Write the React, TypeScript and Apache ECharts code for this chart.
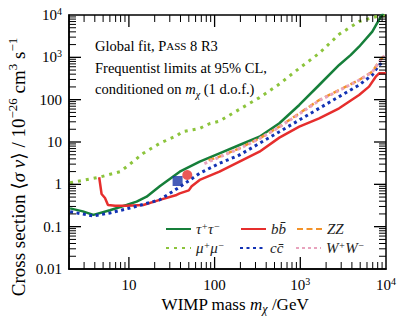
import React, { useEffect, useRef } from "react";
import * as echarts from "echarts";

const FONT = "'Liberation Serif', 'DejaVu Serif', serif";

// Axis ranges
const X_MIN = 2;
const X_MAX = 10000;
const Y_MIN = 0.01;
const Y_MAX = 10000;

// Tick values and labels
const xTickValues = [10, 100, 1000, 10000];
const xTickLabels = ["10", "100", "10{sup|3}", "10{sup|4}"];
const yTickValues = [0.01, 0.1, 1, 10, 100, 1000, 10000];
const yTickLabels = ["0.01", "0.1", "1", "10", "100", "10{sup|3}", "10{sup|4}"];
const xMajorTicks = [10, 100, 1000];
const xMinorTicks = [3, 4, 5, 6, 7, 8, 9, 20, 30, 40, 50, 60, 70, 80, 90, 200, 300, 400, 500, 600, 700, 800, 900, 2000, 3000, 4000, 5000, 6000, 7000, 8000, 9000];
const yMajorTicks = [0.1, 1, 10, 100, 1000];
const yMinorTicks = [0.02, 0.03, 0.04, 0.05, 0.06, 0.07, 0.08, 0.09, 0.2, 0.3, 0.4, 0.5, 0.6, 0.7, 0.8, 0.9, 2, 3, 4, 5, 6, 7, 8, 9, 20, 30, 40, 50, 60, 70, 80, 90, 200, 300, 400, 500, 600, 700, 800, 900, 2000, 3000, 4000, 5000, 6000, 7000, 8000, 9000];

// Series: WIMP mass (GeV) and cross-section limit (1e-26 cm^3 s^-1)
const tauMass = [2.06, 2.9, 3.85, 6.0, 9.4, 12.3, 16.1, 22.9, 39.2, 67, 114, 195, 334, 570, 973, 1660, 2840, 3890, 4850, 6920, 8700, 9300];
const tauSigma = [0.27, 0.23, 0.19, 0.245, 0.325, 0.39, 0.51, 0.9, 1.99, 3.43, 5.4, 8.5, 13.3, 27.7, 75, 222, 661, 1140, 1780, 4040, 9100, 11000];

const bbMass = [4.5, 4.8, 5.26, 5.7, 6.9, 9.4, 14.7, 22.9, 36, 39.2, 50, 54, 67, 114, 195, 334, 570, 973, 1660, 2840, 4850, 6340, 7590, 8300, 10000];
const bbSigma = [1.47, 0.59, 0.475, 0.325, 0.31, 0.31, 0.325, 0.43, 0.56, 0.61, 0.72, 0.9, 1.27, 1.99, 3.43, 5.9, 12.7, 23, 36.3, 62.5, 129, 203, 349, 420, 420];

const zzMass = [85, 114, 195, 334, 570, 973, 1660, 2840, 4850, 6920, 8300, 9600];
const zzSigma = [3.7, 4.5, 7.1, 12.2, 23, 47.6, 98, 169, 292, 458, 789, 1140];

const muMass = [2.06, 4.6, 7.86, 9.4, 14.7, 22.9, 36, 42, 56, 67, 87, 114, 149, 334, 570, 973, 1660, 2840, 4850, 7590, 10000];
const muSigma = [1.09, 1.49, 1.99, 2.6, 5.4, 9.3, 14, 17.5, 19.5, 21, 27, 31, 43, 112, 234, 551, 1250, 3500, 7000, 9120, 9800];

const ccMass = [2.06, 3.8, 6.0, 10.3, 22.9, 39.2, 67, 114, 195, 334, 570, 973, 1660, 2840, 4850, 6920, 8300, 9600];
const ccSigma = [0.226, 0.179, 0.21, 0.276, 0.43, 0.87, 1.82, 3.14, 4.93, 9.3, 17.5, 33, 62.5, 118, 222, 383, 661, 800];

const wwMass = [76, 114, 195, 334, 570, 973, 1660, 2840, 4850, 6920, 8300, 9600];
const wwSigma = [3.1, 4.4, 7.0, 12.0, 22.5, 46, 95, 165, 288, 450, 770, 1100];

// Best-fit points
const bestFitBlue = [[37, 1.2]];
const bestFitRed = [[48, 1.66]];

const names = ["τ+τ−", "bb̄", "ZZ", "μ+μ−", "cc̄", "W+W−"];
const legendRich: Record<string, string> = {
  "τ+τ−": "τ{sup|+}τ{sup|−}",
  "bb̄": "bb\u0304",
  "ZZ": "ZZ",
  "μ+μ−": "μ{sup|+}μ{sup|−}",
  "cc̄": "cc\u0304",
  "W+W−": "W{sup|+}W{sup|−}",
};

function zip(a: number[], b: number[]) {
  return a.map((v, i) => [v, b[i]]);
}

function tickLabel(values: number[], labels: string[]) {
  return (v: number) => {
    for (let i = 0; i < values.length; i++) {
      if (Math.abs(Math.log10(v) - Math.log10(values[i])) < 1e-6) return labels[i];
    }
    return "";
  };
}

export default function App() {
  const ref = useRef<HTMLDivElement>(null);
  useEffect(() => {
    if (!ref.current) return;
    const chart = echarts.init(ref.current, null, { renderer: "svg" });

    const tickData: number[][] = [
      ...xMajorTicks.map((v) => [v, 1, 0, 1]),
      ...xMinorTicks.map((v) => [v, 1, 0, 0]),
      ...yMajorTicks.map((v) => [10, v, 1, 1]),
      ...yMinorTicks.map((v) => [10, v, 1, 0]),
    ];

    const supStyle = { fontSize: 10, fontFamily: FONT, color: "#000", verticalAlign: "top", lineHeight: 10 };
    const legendSup = { fontSize: 10, fontFamily: FONT, fontStyle: "italic", color: "#222", verticalAlign: "top", lineHeight: 9 };

    const lineBase = { type: "line", showSymbol: false, symbol: "none", animation: false, silent: true };

    const legendPos = [
      { left: 165, top: 221 },
      { left: 240, top: 221 },
      { left: 296, top: 221 },
      { left: 165, top: 240 },
      { left: 239, top: 240 },
      { left: 295, top: 240 },
    ];

    const option: any = {
      animation: false,
      grid: { left: 69, right: 21, top: 15, bottom: 56, show: true, borderColor: "#000", borderWidth: 1.5, containLabel: false },
      xAxis: {
        type: "log",
        logBase: 10,
        min: X_MIN,
        max: X_MAX,
        axisLine: { show: true, lineStyle: { color: "#000", width: 1.5 } },
        axisTick: { show: false },
        splitLine: { show: false },
        axisLabel: {
          show: true,
          margin: 7,
          color: "#000",
          fontFamily: FONT,
          fontSize: 15,
          lineHeight: 18,
          formatter: tickLabel(xTickValues, xTickLabels),
          rich: { sup: supStyle },
        },
      },
      yAxis: {
        type: "log",
        logBase: 10,
        min: Y_MIN,
        max: Y_MAX,
        axisLine: { show: true, lineStyle: { color: "#000", width: 1.5 } },
        axisTick: { show: false },
        splitLine: { show: false },
        axisLabel: {
          show: true,
          margin: 7,
          color: "#000",
          fontFamily: FONT,
          fontSize: 15,
          lineHeight: 18,
          formatter: tickLabel(yTickValues, yTickLabels),
          rich: { sup: supStyle },
        },
      },
      legend: names.map((n, i) => ({
        data: [n],
        left: legendPos[i].left,
        top: legendPos[i].top,
        padding: 0,
        itemWidth: 25,
        itemHeight: 14,
        itemGap: 0,
        selectedMode: false,
        itemStyle: { color: "rgba(0,0,0,0)", borderColor: "rgba(0,0,0,0)", borderWidth: 0 },
        formatter: (name: string) => legendRich[name],
        textStyle: {
          fontFamily: FONT,
          fontSize: 15,
          fontStyle: "italic",
          color: "#222",
          lineHeight: 16,
          rich: { sup: legendSup },
        },
      })),
      graphic: [
        {
          type: "text",
          x: 95,
          y: 46,
          style: {
            text: "Global fit, P{sc|ASS} 8 R3",
            fontFamily: FONT,
            fontSize: 14.5,
            fill: "#000",
            align: "left",
            verticalAlign: "middle",
            rich: { sc: { fontFamily: FONT, fontSize: 11, fill: "#000" } },
          },
        },
        {
          type: "text",
          x: 95,
          y: 68,
          style: {
            text: "Frequentist limits at 95% CL,",
            fontFamily: FONT,
            fontSize: 14.5,
            fill: "#000",
            align: "left",
            verticalAlign: "middle",
          },
        },
        {
          type: "text",
          x: 95,
          y: 89,
          style: {
            text: "conditioned on {it|m}{sub|χ} (1 d.o.f.)",
            fontFamily: FONT,
            fontSize: 14.5,
            fill: "#000",
            lineHeight: 20,
            align: "left",
            verticalAlign: "middle",
            rich: {
              it: { fontFamily: FONT, fontSize: 14.5, fontStyle: "italic", fill: "#000", lineHeight: 20 },
              sub: { fontFamily: FONT, fontSize: 10, fontStyle: "italic", fill: "#000", verticalAlign: "bottom", lineHeight: 10 },
            },
          },
        },
        {
          type: "text",
          x: 18,
          y: 167,
          rotation: Math.PI / 2,
          style: {
            text: "Cross section ⟨{it|σ v}⟩ / 10{sup|−26} cm{sup|3} s{sup|−1}",
            fontFamily: FONT,
            fontSize: 19,
            fill: "#000",
            lineHeight: 24,
            align: "center",
            verticalAlign: "middle",
            rich: {
              it: { fontFamily: FONT, fontSize: 19, fontStyle: "italic", fill: "#000", lineHeight: 24 },
              sup: { fontFamily: FONT, fontSize: 13, fill: "#000", verticalAlign: "top", lineHeight: 13 },
            },
          },
        },
        {
          type: "text",
          x: 235,
          y: 304,
          style: {
            text: "WIMP mass {it|m}{sub|χ} /GeV",
            fontFamily: FONT,
            fontSize: 17,
            fill: "#000",
            lineHeight: 22,
            align: "center",
            verticalAlign: "middle",
            rich: {
              it: { fontFamily: FONT, fontSize: 17, fontStyle: "italic", fill: "#000", lineHeight: 22 },
              sub: { fontFamily: FONT, fontSize: 12, fontStyle: "italic", fill: "#000", verticalAlign: "bottom", lineHeight: 12 },
            },
          },
        },
      ],
      series: [
        { ...lineBase, name: "μ+μ−", data: zip(muMass, muSigma), z: 2, lineStyle: { color: "#8cc43c", width: 3, type: [3, 5] } },
        { ...lineBase, name: "τ+τ−", data: zip(tauMass, tauSigma), z: 3, lineStyle: { color: "#167f3a", width: 2.5, type: "solid" } },
        { ...lineBase, name: "bb̄", data: zip(bbMass, bbSigma), z: 3, lineStyle: { color: "#e62e2d", width: 2.5, type: "solid" } },
        { ...lineBase, name: "cc̄", data: zip(ccMass, ccSigma), z: 4, lineStyle: { color: "#1232b4", width: 3, type: [3, 3.5] } },
        { ...lineBase, name: "ZZ", data: zip(zzMass, zzSigma), z: 4, lineStyle: { color: "#f39229", width: 2.5, type: [6, 3.5] } },
        { ...lineBase, name: "W+W−", data: zip(wwMass, wwSigma), z: 5, lineStyle: { color: "#e8a3bd", width: 3, type: [3, 3] } },
        {
          type: "scatter",
          name: "best fit cc",
          data: bestFitBlue,
          symbol: "rect",
          symbolSize: 10,
          itemStyle: { color: "#1a35a8" },
          z: 6,
          silent: true,
        },
        {
          type: "scatter",
          name: "best fit bb",
          data: bestFitRed,
          symbol: "circle",
          symbolSize: 10,
          itemStyle: { color: "#e62e2d" },
          z: 6,
          silent: true,
        },
        {
          type: "custom",
          name: "ticks",
          data: tickData,
          encode: { x: 0, y: 1 },
          clip: false,
          silent: true,
          z: 10,
          renderItem: (params: any, api: any) => {
            const kind = api.value(2);
            const major = api.value(3);
            const len = major ? 12 : 7;
            const style = { stroke: "#000", lineWidth: major ? 1.3 : 1 };
            if (kind === 0) {
              const v = api.value(0);
              const pb = api.coord([v, Y_MIN]);
              const pt = api.coord([v, Y_MAX]);
              return {
                type: "group",
                children: [
                  { type: "line", shape: { x1: pb[0], y1: pb[1], x2: pb[0], y2: pb[1] - len }, style },
                  { type: "line", shape: { x1: pt[0], y1: pt[1], x2: pt[0], y2: pt[1] + len }, style },
                ],
              };
            }
            const v = api.value(1);
            const pl = api.coord([X_MIN, v]);
            const pr = api.coord([X_MAX, v]);
            return {
              type: "group",
              children: [
                { type: "line", shape: { x1: pl[0], y1: pl[1], x2: pl[0] + len, y2: pl[1] }, style },
                { type: "line", shape: { x1: pr[0], y1: pr[1], x2: pr[0] - len, y2: pr[1] }, style },
              ],
            };
          },
        },
      ],
    };

    chart.setOption(option);
    return () => chart.dispose();
  }, []);

  return <div ref={ref} style={{ position: "absolute", left: 0, top: 0, width: 407, height: 325 }} />;
}
